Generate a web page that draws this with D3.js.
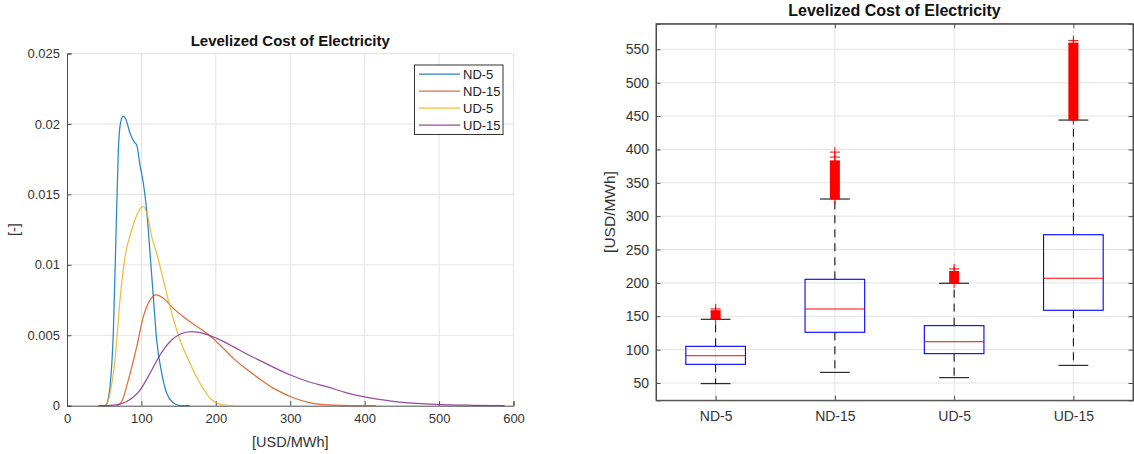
<!DOCTYPE html>
<html><head><meta charset="utf-8">
<script src="https://cdn.jsdelivr.net/npm/d3@7"></script>
<style>
body{margin:0;background:#fff;}
svg{display:block;font-family:"Liberation Sans",Arial,Helvetica,sans-serif;}
</style></head><body>
<svg id="c" width="1134" height="454"></svg>
<script>
// ---------- DATA ----------
const seriesNames = ["ND-5", "ND-15", "UD-5", "UD-15"];
const seriesColors = ["#0072BD", "#D95319", "#EDB120", "#7E2F8E"];

// density curves (left panel): x in USD/MWh, y in [-]
const nd5X  = [42, 51, 55, 57.8, 62.2, 65.9, 69, 72, 75.7, 79.3, 84.7, 90, 93.7, 98.1, 102.6, 107, 111.6, 116, 120.5, 127.3, 134, 143, 150, 165];
const nd5Y  = [0, 0, 0.0004, 0.00135, 0.0051, 0.01224, 0.01815, 0.0201, 0.02056, 0.0203, 0.01934, 0.01874, 0.0185, 0.01708, 0.01579, 0.01389, 0.01082, 0.00774, 0.00466, 0.0023, 0.00088, 0.0002, 0.00003, 0];
const nd15X = [67, 70, 73.5, 82.4, 93.7, 102.6, 111.6, 120.5, 129.5, 142.9, 156.3, 169.8, 187.7, 205.6, 223.5, 241.5, 259.4, 277.8, 302.4, 326.9, 351.4, 380, 415];
const nd15Y = [0, 0.0001, 0.0003, 0.00182, 0.00419, 0.00632, 0.0075, 0.00786, 0.00762, 0.00691, 0.00632, 0.0058, 0.00514, 0.00431, 0.00336, 0.00258, 0.00188, 0.00123, 0.0006, 0.0002, 0.00005, 0.00001, 0];
const ud5X  = [49, 53, 57.8, 64.5, 71.2, 78, 87, 95.8, 102.6, 108, 113.8, 120.5, 129.5, 138.4, 151.9, 165.3, 178.8, 192.2, 205.6, 215, 227];
const ud5Y  = [0, 0.0001, 0.00088, 0.00324, 0.0075, 0.01058, 0.01247, 0.01377, 0.01413, 0.01354, 0.012, 0.01082, 0.00892, 0.00703, 0.00466, 0.00301, 0.00159, 0.00053, 0.0001, 0.00002, 0];
const ud15X = [46, 60, 70, 80.2, 98.1, 111.6, 125, 138.4, 151.9, 167.6, 183.2, 201.2, 223.5, 241.5, 259.4, 300.2, 324.6, 349, 373.4, 397.8, 422.2, 446.6, 495.3, 544, 588];
const ud15Y = [0, 0.00003, 0.0001, 0.0003, 0.00111, 0.0023, 0.0036, 0.00454, 0.00507, 0.00525, 0.00514, 0.00478, 0.00419, 0.00367, 0.0032, 0.00218, 0.0017, 0.00135, 0.00095, 0.00064, 0.00043, 0.00026, 0.0001, 0.00003, 0];

const densXTicks = [0, 100, 200, 300, 400, 500, 600];
const densYTicks = [0, 0.005, 0.01, 0.015, 0.02, 0.025];

// box plot statistics (right panel), USD/MWh
const boxCategories = ["ND-5", "ND-15", "UD-5", "UD-15"];
const whiskerLow  = [49, 66, 58, 76.5];
const q1          = [78, 126, 94, 159];
const medianVal   = [90.9, 160.9, 111.9, 207];
const q3          = [105, 205.4, 136, 272.2];
const whiskerHigh = [145.5, 325.7, 199.5, 444];
const outlierBandLow  = [146, 326, 200, 444.5];
const outlierBandHigh = [158, 382.5, 217, 559];
const outlierSingles  = [[161], [388.5, 396], [221], [563]];
const boxYTicks = [50, 100, 150, 200, 250, 300, 350, 400, 450, 500, 550];

// ---------- DRAW ----------
const svg = d3.select("#c");
const axisCol = "#4d4d4d", textCol = "#333", gridCol = "#e3e3e3";

// ===== LEFT PANEL =====
const L = {x0: 67, x1: 513.5, y0: 405.7, y1: 53.5};
const lx = d3.scaleLinear().domain([0, 600]).range([L.x0, L.x1]);
const ly = d3.scaleLinear().domain([0, 0.025]).range([L.y0, L.y1]);
const lg = svg.append("g");

// grid
lg.append("g").selectAll("line").data(densXTicks.slice(1)).join("line")
  .attr("x1", d => lx(d)).attr("x2", d => lx(d)).attr("y1", L.y0).attr("y2", L.y1)
  .attr("stroke", gridCol).attr("stroke-width", 1);
lg.append("g").selectAll("line").data(densYTicks.slice(1)).join("line")
  .attr("x1", L.x0).attr("x2", L.x1).attr("y1", d => ly(d)).attr("y2", d => ly(d))
  .attr("stroke", gridCol).attr("stroke-width", 1);

// axes (inward ticks)
const lxAxis = lg.append("g").attr("transform", `translate(0,${L.y0})`)
  .call(d3.axisBottom(lx).tickValues(densXTicks).tickSize(-4.5).tickPadding(8).tickFormat(d3.format("d")));
const lyAxis = lg.append("g").attr("transform", `translate(${L.x0},0)`)
  .call(d3.axisLeft(ly).tickValues(densYTicks).tickSize(-4.5).tickPadding(7).tickFormat(d => d === 0 ? "0" : String(+d.toFixed(3))));
[lxAxis, lyAxis].forEach(a => {
  a.select(".domain").attr("stroke", axisCol);
  a.selectAll(".tick line").attr("stroke", axisCol);
  a.selectAll("text").attr("fill", textCol).style("font-size", "13px");
});

// curves
const curveData = [[nd5X, nd5Y], [nd15X, nd15Y], [ud5X, ud5Y], [ud15X, ud15Y]];
const lineGen = d3.line().x(d => lx(d[0])).y(d => ly(d[1])).curve(d3.curveMonotoneX);
curveData.forEach((c, i) => {
  const pts = c[0].map((x, j) => [x, c[1][j]]);
  lg.append("path").datum(pts).attr("d", lineGen)
    .attr("fill", "none").attr("stroke", seriesColors[i]).attr("stroke-width", 1.25).attr("stroke-opacity", 0.85);
});

// title & labels
lg.append("text").attr("x", (L.x0 + L.x1) / 2).attr("y", 41).attr("dy", "0.35em")
  .attr("text-anchor", "middle").style("font-size", "15px").style("font-weight", "bold").attr("fill", "#111")
  .text("Levelized Cost of Electricity");
lg.append("text").attr("x", (L.x0 + L.x1) / 2).attr("y", 442).attr("dy", "0.35em")
  .attr("text-anchor", "middle").style("font-size", "14.5px").attr("fill", textCol).text("[USD/MWh]");
lg.append("text").attr("transform", `translate(14,${(L.y0 + L.y1) / 2}) rotate(-90)`).attr("dy", "0.35em")
  .attr("text-anchor", "middle").style("font-size", "14.5px").attr("fill", textCol).text("[-]");

// legend
const leg = lg.append("g");
leg.append("rect").attr("x", 414.5).attr("y", 65).attr("width", 88.5).attr("height", 69.5)
  .attr("fill", "#fff").attr("stroke", "#333").attr("stroke-width", 1);
seriesNames.forEach((n, i) => {
  const yy = 74.2 + i * 17;
  leg.append("line").attr("x1", 419).attr("x2", 460).attr("y1", yy).attr("y2", yy)
    .attr("stroke", seriesColors[i]).attr("stroke-width", 1.25).attr("stroke-opacity", 0.85);
  leg.append("text").attr("x", 463).attr("y", yy).attr("dy", "0.35em")
    .style("font-size", "13px").attr("fill", "#222").text(n);
});

// ===== RIGHT PANEL =====
const R = {x0: 656, x1: 1133, y0: 400.3, y1: 23.7};
const rx = d3.scaleLinear().domain([0.5, 4.5]).range([R.x0, R.x1]);
const ry = d3.scaleLinear().domain([24.1, 588.4]).range([R.y0, R.y1]);
const rg = svg.append("g");
const step = rx(2) - rx(1);

// grid
rg.append("g").selectAll("line").data(boxCategories).join("line")
  .attr("x1", (d, i) => rx(i + 1)).attr("x2", (d, i) => rx(i + 1)).attr("y1", R.y0).attr("y2", R.y1)
  .attr("stroke", gridCol).attr("stroke-width", 1);
rg.append("g").selectAll("line").data(boxYTicks).join("line")
  .attr("x1", R.x0).attr("x2", R.x1).attr("y1", d => ry(d)).attr("y2", d => ry(d))
  .attr("stroke", gridCol).attr("stroke-width", 1);

// boxes
boxCategories.forEach((c, i) => {
  const cx = rx(i + 1);
  const g = rg.append("g");
  // whiskers (dashed)
  g.append("line").attr("x1", cx).attr("x2", cx).attr("y1", ry(q3[i])).attr("y2", ry(whiskerHigh[i]))
    .attr("stroke", "#000").attr("stroke-width", 1).attr("stroke-dasharray", "8,6");
  g.append("line").attr("x1", cx).attr("x2", cx).attr("y1", ry(q1[i])).attr("y2", ry(whiskerLow[i]))
    .attr("stroke", "#000").attr("stroke-width", 1).attr("stroke-dasharray", "8,6");
  // caps
  [whiskerLow[i], whiskerHigh[i]].forEach(v => {
    g.append("line").attr("x1", cx - step * 0.125).attr("x2", cx + step * 0.125)
      .attr("y1", ry(v)).attr("y2", ry(v)).attr("stroke", "#000").attr("stroke-width", 1);
  });
  // box
  g.append("rect").attr("x", cx - step * 0.25).attr("width", step * 0.5)
    .attr("y", ry(q3[i])).attr("height", ry(q1[i]) - ry(q3[i]))
    .attr("fill", "none").attr("stroke", "#0000ff").attr("stroke-width", 1.1);
  // median
  g.append("line").attr("x1", cx - step * 0.25).attr("x2", cx + step * 0.25)
    .attr("y1", ry(medianVal[i])).attr("y2", ry(medianVal[i]))
    .attr("stroke", "#ff0000").attr("stroke-width", 1);
  // outliers: dense band of '+' markers and single ones
  g.append("rect").attr("x", cx - 5).attr("width", 10)
    .attr("y", ry(outlierBandHigh[i]) - 0.5).attr("height", ry(outlierBandLow[i]) - ry(outlierBandHigh[i]) + 1)
    .attr("fill", "#ff0000");
  const marks = [outlierBandLow[i], outlierBandHigh[i]].concat(outlierSingles[i]);
  g.selectAll("path.o").data(marks).join("path").attr("class", "o")
    .attr("d", d => `M${cx - 5},${ry(d)}H${cx + 5}M${cx},${ry(d) - 5}V${ry(d) + 5}`)
    .attr("stroke", "#ff0000").attr("stroke-width", 1).attr("fill", "none");
});

// frame
rg.append("rect").attr("x", R.x0).attr("y", R.y1).attr("width", R.x1 - R.x0).attr("height", R.y0 - R.y1)
  .attr("fill", "none").attr("stroke", axisCol).attr("stroke-width", 1);

// axes
const rxAxis = rg.append("g").attr("transform", `translate(0,${R.y0})`)
  .call(d3.axisBottom(rx).tickValues([1, 2, 3, 4]).tickSize(-4.5).tickPadding(11).tickFormat(d => boxCategories[d - 1]));
const rxTop = rg.append("g").attr("transform", `translate(0,${R.y1})`)
  .call(d3.axisTop(rx).tickValues([1, 2, 3, 4]).tickSize(-4.5).tickFormat(""));
const ryAxis = rg.append("g").attr("transform", `translate(${R.x0},0)`)
  .call(d3.axisLeft(ry).tickValues(boxYTicks).tickSize(-4.5).tickPadding(7));
const ryRight = rg.append("g").attr("transform", `translate(${R.x1},0)`)
  .call(d3.axisRight(ry).tickValues(boxYTicks).tickSize(-4.5).tickFormat(""));
[rxAxis, rxTop, ryAxis, ryRight].forEach(a => {
  a.select(".domain").attr("stroke", axisCol);
  a.selectAll(".tick line").attr("stroke", axisCol);
  a.selectAll("text").attr("fill", textCol).style("font-size", "14px");
});

rg.append("text").attr("x", (R.x0 + R.x1) / 2).attr("y", 10).attr("dy", "0.35em")
  .attr("text-anchor", "middle").style("font-size", "16px").style("font-weight", "bold").attr("fill", "#111")
  .text("Levelized Cost of Electricity");
rg.append("text").attr("transform", `translate(610,${(R.y0 + R.y1) / 2}) rotate(-90)`).attr("dy", "0.35em")
  .attr("text-anchor", "middle").style("font-size", "15.5px").attr("fill", textCol).text("[USD/MWh]");
</script>
</body></html>
